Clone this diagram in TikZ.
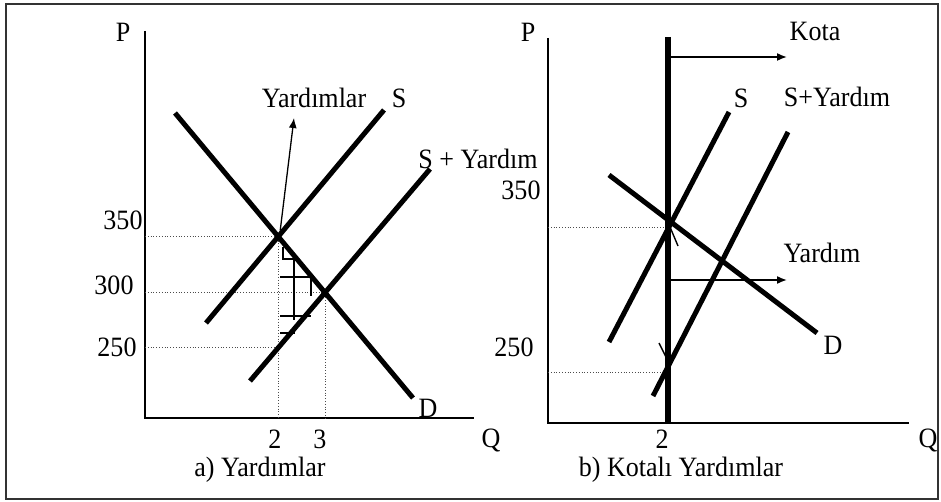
\documentclass[tikz,border=0pt]{standalone}
\usepackage{fontspec}
\setmainfont{Liberation Serif}[FakeStretch=0.93]
\usetikzlibrary{arrows.meta}
\tikzset{
  crv/.style={line width=5pt, draw=black},
  ax/.style={line width=2.6pt, draw=black},
  guide/.style={dotted, line width=0.8pt, draw=black!70},
  arr/.style={-{Latex[length=10pt,width=8pt]}, line width=1.6pt, draw=black},
  hatch/.style={line width=2.2pt, draw=black},
  lab/.style={inner sep=0pt, font=\fontsize{28}{30}\selectfont}
}

\begin{document}
\begin{tikzpicture}[x=1pt,y=-1pt]
\useasboundingbox (0,0) rectangle (941,502);
\draw[line width=1.5pt, draw=black!80] (6,4) rectangle (938,499);

% a) Yardimlar
\coordinate (aO) at (145,418);
\coordinate (aPtop) at (145,31);
\coordinate (aQend) at (474,418);
\draw[ax] (aPtop) -- (aO) -- (aQend);
\coordinate (aD1) at (175,113); \coordinate (aD2) at (413,398);
\coordinate (aS1) at (206,323); \coordinate (aS2) at (384,110);
\coordinate (aT1) at (250,381); \coordinate (aT2) at (430,169);
\coordinate (aE) at (intersection of aD1--aD2 and aS1--aS2);
\coordinate (aF) at (intersection of aD1--aD2 and aT1--aT2);
\coordinate (aG) at (intersection of aT1--aT2 and aE--{aE|-aO});
\draw[guide] (aO |- aE) -- (aE) -- (aE |- aO);
\draw[guide] (aO |- aF) -- (aF) -- (aF |- aO);
\draw[guide] (aO |- aG) -- (aG);
\draw[crv] (aD1) -- (aD2);
\draw[crv] (aS1) -- (aS2);
\draw[crv] (aT1) -- (aT2);
\draw[hatch] (283,247) -- (283,259) -- (294,259) -- (294,320);
\draw[hatch] (280,277) -- (311,277) -- (311,296);
\draw[hatch] (280,316) -- (311,316);
\draw[hatch] (280,333) -- (295,333);
\coordinate (aUp) at (294,118);
\draw[arr, line width=1.3pt] ([shift={(2,-6)}]aE) -- (aUp);

\node[lab] (aP) at (123,32) {P};
\node[lab] (aYl) at (314,98) {Yardımlar};
\node[lab] (aSl) at (399,98) {S};
\node[lab] (aTl) at (478,159) {S + Yardım};
\node[lab] (aD) at (428,408) {D};
\node[lab] (a350) at (123,220) {350};
\node[lab] (a300) at (114,285) {300};
\node[lab] (a250) at (117,347) {250};
\node[lab] (aq2) at (275,439) {2};
\node[lab] (aq3) at (320,439) {3};
\node[lab] (aQ) at (491,440) {Q};
\node[lab] (acap) at (260,470) {a) Yardımlar};

% b) Kotali Yardimlar
\coordinate (bO) at (548,423);
\coordinate (bPtop) at (548,38);
\coordinate (bQend) at (909,423);
\draw[ax] (bPtop) -- (bO) -- (bQend);
\coordinate (bK1) at (668,37); \coordinate (bK2) at (668,423);
\coordinate (bS1) at (609,342); \coordinate (bS2) at (729,112);
\coordinate (bT1) at (653,396); \coordinate (bT2) at (788,132);
\coordinate (bD1) at (609,175); \coordinate (bD2) at (817,333);
\coordinate (bHi) at (668,227); \coordinate (bLo) at (668,372);
\draw[guide] (bO |- bHi) -- (bHi);
\draw[guide] (bO |- bLo) -- (bLo);
\draw[crv] (bS1) -- (bS2);
\draw[crv] (bT1) -- (bT2);
\draw[crv] (bD1) -- (bD2);
\draw[crv, line width=6pt] (bK1) -- (bK2);
\draw[line width=1.4pt] (670,227) -- (678,246);
\draw[line width=1.4pt] (659,343) -- (666,357);
\coordinate (bKa) at (668,57); \coordinate (bKb) at (787,57);
\coordinate (bYa) at (668,280); \coordinate (bYb) at (787,280);
\draw[arr] (bKa) -- (bKb);
\draw[arr] (bYa) -- (bYb);

\node[lab] (bP) at (528,32) {P};
\node[lab] (bKl) at (815,31) {Kota};
\node[lab] (bSl) at (741,98) {S};
\node[lab] (bTl) at (837,97) {S+Yardım};
\node[lab] (bYl) at (822,253) {Yardım};
\node[lab] (bD) at (833,345) {D};
\node[lab] (b350) at (521,190) {350};
\node[lab] (b250) at (514,347) {250};
\node[lab] (bq2) at (662,439) {2};
\node[lab] (bQ) at (928,440) {Q};
\node[lab] (bcap) at (681,470) {b) Kotalı Yardımlar};
\end{tikzpicture}
\end{document}
